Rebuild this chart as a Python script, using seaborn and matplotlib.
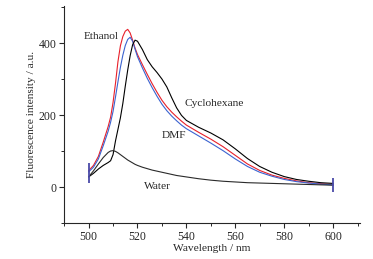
import numpy as np
import pandas as pd
import matplotlib
matplotlib.use("Agg")
import matplotlib.pyplot as plt
import seaborn as sns
from matplotlib.ticker import MultipleLocator

# wavelength grid (nm)
wavelength = [500, 502, 504, 506, 508, 509, 510, 511, 512, 513, 514, 515, 516, 517, 518, 519, 520,
              522, 524, 526, 528, 530, 532, 534, 536, 538, 540, 545, 550, 555, 560, 565, 570,
              575, 580, 585, 590, 595, 600]

ethanol = [45, 60, 85, 125, 168, 194, 235, 288, 348, 392, 418, 433, 438, 428, 408, 386, 368,
           340, 313, 287, 263, 241, 223, 208, 195, 183, 172, 152, 133, 112, 88, 64, 46,
           33, 24, 17, 12, 9, 7]
dmf = [42, 55, 78, 115, 155, 180, 210, 250, 292, 332, 366, 393, 410, 416, 405, 383, 362,
       331, 302, 276, 252, 230, 212, 197, 184, 172, 162, 142, 122, 101, 78, 57, 41,
       30, 21, 15, 11, 8, 6]
cyclohexane = [28, 38, 50, 60, 68, 73, 90, 128, 160, 192, 232, 280, 325, 365, 395, 408, 405,
               382, 354, 334, 318, 300, 278, 248, 220, 199, 185, 166, 150, 131, 106, 79, 57,
               41, 29, 21, 16, 12, 10]
water = [28, 45, 64, 82, 96, 100, 101, 99, 95, 90, 85, 80, 75, 71, 67, 63, 60,
         55, 51, 47, 44, 41, 38, 35, 32, 30, 28, 23, 19, 16, 14, 12, 11,
         10, 9, 8, 7, 6, 5]

solvents = ["Ethanol", "DMF", "Cyclohexane", "Water"]
colors = ["#e8202a", "#3b63d0", "#000000", "#2a2a2a"]

# blue bars at both ends of the scan
bar_x = [500, 600]
bar_lo = [10, -14]
bar_hi = [67, 25]

# label positions (wavelength, intensity), same order as solvents
label_x = [505, 535, 551.5, 528]
label_y = [417, 142, 233, 1]

df = pd.DataFrame({
    "wl": wavelength * 4,
    "I": ethanol + dmf + cyclohexane + water,
    "solvent": sum([[s] * len(wavelength) for s in solvents], []),
})

sns.set_style("ticks")
plt.rcParams["font.family"] = ["Liberation Serif", "DejaVu Serif"]
plt.rcParams["font.size"] = 8.2

fig = plt.figure(figsize=(3.73, 2.59), dpi=100)
ax = fig.add_axes([0.172, 0.139, 0.793, 0.838])

sns.lineplot(data=df, x="wl", y="I", hue="solvent", hue_order=solvents,
             palette=dict(zip(solvents, colors)), legend=False, linewidth=0.8,
             sort=True, ax=ax)

ax.vlines(bar_x, bar_lo, bar_hi, color="#4a4aa8", linewidth=1.3)

for name, lx, ly in zip(solvents, label_x, label_y):
    ax.text(lx, ly, name, ha="center", va="center", fontsize=8.2)

ax.set_xlim(490, 611)
ax.set_ylim(-100, 503)
ax.xaxis.set_major_locator(MultipleLocator(20))
ax.xaxis.set_minor_locator(MultipleLocator(10))
ax.yaxis.set_major_locator(MultipleLocator(200))
ax.yaxis.set_minor_locator(MultipleLocator(100))
ax.tick_params(which="major", length=3.5, width=0.8, direction="out", labelsize=8.5, pad=2)
ax.tick_params(which="minor", length=2, width=0.7, direction="out")
sns.despine(ax=ax)
for s in ["left", "bottom"]:
    ax.spines[s].set_linewidth(0.8)

ax.set_xlabel("Wavelength / nm", fontsize=8.2, labelpad=1)
ax.set_ylabel("Fluorescence intensity / a.u.", fontsize=8.2, labelpad=2)

fig.savefig("out.png", dpi=100)
